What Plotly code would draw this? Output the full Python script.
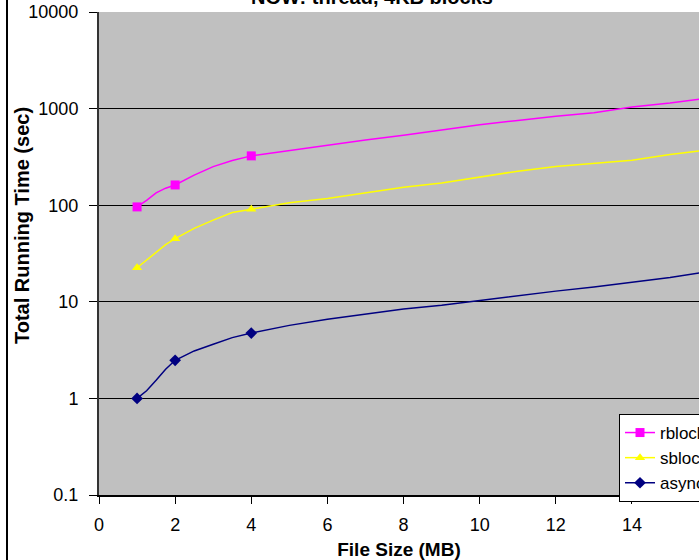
import plotly.graph_objects as go

file_size = [1, 1.25, 1.5, 1.75, 2, 2.5, 3, 3.5, 4, 5, 6, 7, 8, 9, 10, 11, 12, 13, 14, 15, 16]
rblock = [96, 112, 134, 150, 162, 205, 251, 290, 324, 368, 420, 472, 530, 600, 680, 755, 835, 905, 1040, 1140, 1290]
sblock = [22.5, 27, 33, 39, 45, 57.6, 70, 84, 91, 106, 117, 135, 153, 170, 196, 225, 252, 272, 292, 335, 375]
async_ = [1.0, 1.2, 1.54, 2.0, 2.48, 3.1, 3.63, 4.26, 4.75, 5.7, 6.6, 7.4, 8.4, 9.2, 10.3, 11.6, 12.9, 14.2, 15.8, 17.8, 20.5]
marker_at = [1, 2, 4, 16]

series = [
    ("rblock", rblock, "#FF00FF", "square"),
    ("sblock", sblock, "#FFFF00", "triangle-up"),
    ("async", async_, "#000080", "diamond"),
]

FONT = "Liberation Sans, Arial, sans-serif"
fig = go.Figure()
for name, vals, color, sym in series:
    colors = [color if x in marker_at else "rgba(0,0,0,0)" for x in file_size]
    fig.add_trace(go.Scatter(
        x=file_size, y=vals, name=name, mode="lines+markers",
        line=dict(color=color, width=1.5),
        marker=dict(symbol=sym, size=9, color=colors, line=dict(width=0)),
    ))

fig.update_layout(
    width=699, height=560,
    margin=dict(l=99, r=0, t=12, b=65, autoexpand=False),
    paper_bgcolor="white", plot_bgcolor="#C0C0C0",
    font=dict(family=FONT, size=18, color="black"),
    title=dict(text="<b>NOW: thread, 4KB blocks</b>", x=372/699, xanchor="center",
               y=1 - 4/560, yref="container", yanchor="bottom",
               font=dict(family=FONT, size=20, color="black")),
    showlegend=True,
    legend=dict(x=(619-99)/600, y=(495-414)/483, xanchor="left", yanchor="top",
                bgcolor="white", bordercolor="black", borderwidth=1,
                font=dict(family=FONT, size=17, color="black"),
                traceorder="normal", itemwidth=30),
    shapes=[dict(type="line", xref="paper", yref="paper", x0=(7-99)/600, x1=(7-99)/600,
                 y0=-1, y1=2, line=dict(color="black", width=2))],
    annotations=[dict(text="<b>Total Running Time (sec)</b>", textangle=-90,
                      xref="paper", yref="paper", x=(22-99)/600, y=(495-226)/483,
                      xanchor="center", yanchor="middle", showarrow=False,
                      font=dict(family=FONT, size=20, color="black"))],
)
fig.update_xaxes(
    range=[0, 600/38.07], tickvals=[0, 2, 4, 6, 8, 10, 12, 14], ticks="outside", ticklen=7,
    tickcolor="black", showline=True, linecolor="black", linewidth=1.5,
    showgrid=False, zeroline=False, ticklabelstandoff=6,
    title=dict(text="<b>File Size (MB)</b>", font=dict(family=FONT, size=19), standoff=8),
    tickfont=dict(family=FONT, size=18),
)
fig.update_yaxes(
    type="log", range=[-1, 4], tickvals=[0.1, 1, 10, 100, 1000, 10000],
    ticktext=["0.1", "1", "10", "100", "1000", "10000"],
    ticks="outside", ticklen=8, tickcolor="black", ticklabelstandoff=7,
    showline=True, linecolor="#333333", linewidth=2,
    showgrid=True, gridcolor="black", gridwidth=1, zeroline=False,
    tickfont=dict(family=FONT, size=18),
)
fig.write_html("out.html", config={"displayModeBar": False},
               post_script="document.body.style.margin='0';")
